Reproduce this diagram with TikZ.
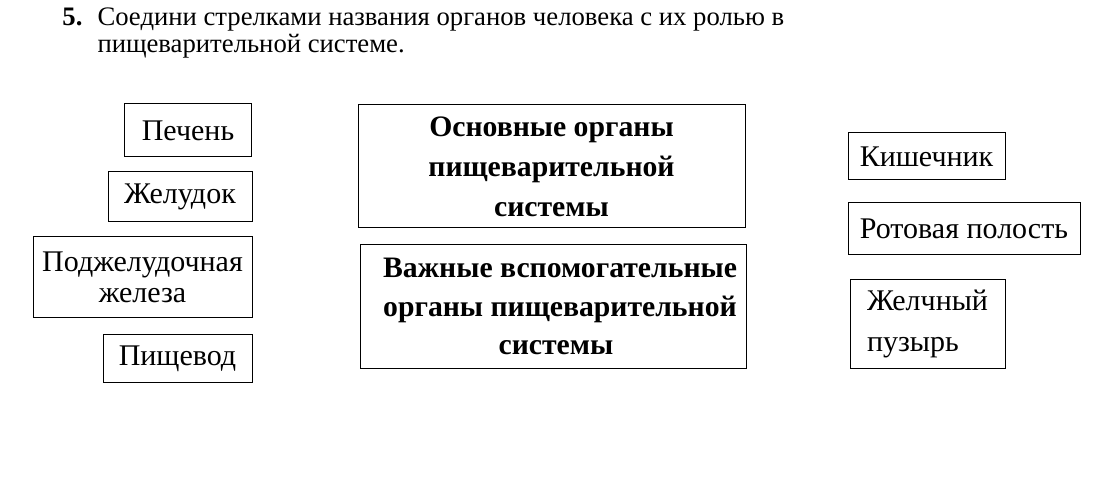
\documentclass[tikz,border=0pt]{standalone}
\usepackage{fontspec}
\setmainfont{Liberation Serif}

\begin{document}
\begin{tikzpicture}[x=1pt,y=-1pt,line width=1pt,
                main/.style = {draw, rectangle, inner sep=0pt, align=center, font=\fontsize{30}{31}\selectfont},
                head/.style = {main, font=\bfseries\fontsize{29.7}{40}\selectfont}]
                \useasboundingbox (0,0) rectangle (1096,481);
                % task text
                \node[anchor=north west, align=left, inner sep=0pt, font=\fontsize{26.7}{27}\selectfont] (task) at (97,7)
                    {Соедини стрелками названия органов человека с их ролью в\\ пищеварительной системе.};
                \node[anchor=base east, inner sep=0pt, font=\bfseries\fontsize{26.7}{27}\selectfont] (num) at ([xshift=-14pt]task.north west |- 0,26) {5.};
                % organs, left column
                \node[main, minimum width=127, minimum height=53] (1) at (188,130.5) {Печень};
                \node[main, minimum width=144, minimum height=50] (2) at (180,197) {Желудок};
                \node[main, minimum width=219, minimum height=81] (3) at (142.5,277.5) {Поджелудочная\\железа};
                \node[main, minimum width=149, minimum height=47] (4) at (177.5,358.5) {Пищевод};
                % roles
                \node[head, minimum width=387, minimum height=123] (5) at (551.5,166.5) {Основные органы\\пищеварительной\\системы};
                \node[head, minimum width=386, minimum height=123, font=\bfseries\fontsize{29.7}{38.5}\selectfont] (6) at (553,306.5)
                    {\hspace*{14pt}Важные вспомогательные\\\hspace*{14pt}органы пищеварительной\\\hspace*{6pt}системы};
                % organs, right column
                \node[main, minimum width=157, minimum height=47] (7) at (926.5,156.5) {Кишечник};
                \node[main, minimum width=232, minimum height=52] (8) at (964,229) {Ротовая полость};
                \node[main, minimum width=155, minimum height=88, align=left, font=\fontsize{30}{41}\selectfont] (9) at (927.5,324) {Желчный\\пузырь};
\end{tikzpicture}
\end{document}
